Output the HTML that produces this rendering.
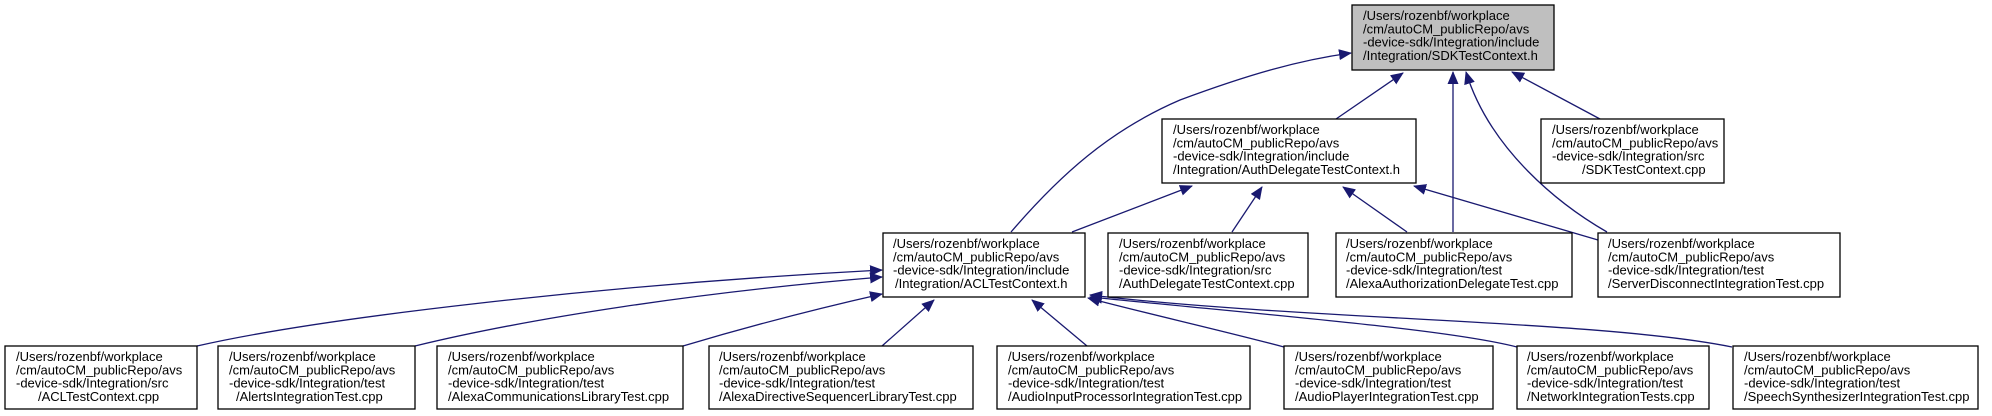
<!DOCTYPE html>
<html><head><meta charset="utf-8"><style>
html,body{margin:0;padding:0;background:#fff;}
svg{display:block}
text{font-family:"Liberation Sans",Arial,sans-serif;font-size:13px;fill:#000}
</style></head><body>
<svg width="1992" height="416" viewBox="0 0 1992 416" xmlns="http://www.w3.org/2000/svg">
<defs>
<marker id="a" markerWidth="13" markerHeight="11" refX="12" refY="5.5" orient="auto" markerUnits="userSpaceOnUse">
<path d="M0,0 L13,5.5 L0,11 Z" fill="#191970"/>
</marker>
</defs>
<g fill="none" stroke="#191970" stroke-width="1.3" marker-end="url(#a)">
<path d="M1011,232 C1060,175 1110,130 1180,100 C1250,74 1300,60 1351,53"/>
<path d="M1336,119 L1403,73"/>
<path d="M1453,232 L1453,72"/>
<path d="M1607,232 C1560,205 1490,150 1466,72"/>
<path d="M1600,119 L1512,72"/>
<path d="M1072,232 L1192,186"/>
<path d="M1232,232 L1262,187"/>
<path d="M1407,232 L1343,187"/>
<path d="M1598,240 L1414,186"/>
<path d="M197,346 C320,318 600,285 882,270"/>
<path d="M415,346 C530,318 700,292 882,277"/>
<path d="M683,346 C750,326 820,308 882,294"/>
<path d="M882,346 L934,300"/>
<path d="M1087,346 L1032,300"/>
<path d="M1284,347 C1220,330 1140,312 1088,298"/>
<path d="M1517,347 C1450,330 1300,318 1090,297"/>
<path d="M1732,347 C1600,320 1300,320 1090,295"/>
</g>
<g fill="#fff" stroke="#000" stroke-width="1.3">
<rect x="1352" y="5" width="202" height="65" fill="#bfbfbf"/>
<rect x="1162" y="119" width="254" height="64"/>
<rect x="1541" y="119" width="183" height="64"/>
<rect x="883" y="233" width="202" height="64"/>
<rect x="1108" y="233" width="200" height="64"/>
<rect x="1336" y="233" width="236" height="64"/>
<rect x="1598" y="233" width="242" height="64"/>
<rect x="5" y="346" width="192" height="63"/>
<rect x="218" y="346" width="197" height="63"/>
<rect x="437" y="346" width="246" height="63"/>
<rect x="709" y="346" width="264" height="63"/>
<rect x="997" y="346" width="253" height="63"/>
<rect x="1284" y="346" width="209" height="63"/>
<rect x="1517" y="346" width="192" height="63"/>
<rect x="1733" y="346" width="245" height="63"/>
</g>
<text x="1363" y="20">/Users/rozenbf/workplace<tspan x="1363" dy="13.3">/cm/autoCM_publicRepo/avs</tspan><tspan x="1363" dy="13.3">-device-sdk/Integration/include</tspan><tspan x="1363" dy="13.3">/Integration/SDKTestContext.h</tspan></text>
<text x="1173" y="134">/Users/rozenbf/workplace<tspan x="1173" dy="13.3">/cm/autoCM_publicRepo/avs</tspan><tspan x="1173" dy="13.3">-device-sdk/Integration/include</tspan><tspan x="1173" dy="13.3">/Integration/AuthDelegateTestContext.h</tspan></text>
<text x="1552" y="134">/Users/rozenbf/workplace<tspan x="1552" dy="13.3">/cm/autoCM_publicRepo/avs</tspan><tspan x="1552" dy="13.3">-device-sdk/Integration/src</tspan><tspan x="1582" dy="13.3">/SDKTestContext.cpp</tspan></text>
<text x="893" y="248">/Users/rozenbf/workplace<tspan x="893" dy="13.3">/cm/autoCM_publicRepo/avs</tspan><tspan x="893" dy="13.3">-device-sdk/Integration/include</tspan><tspan x="895" dy="13.3">/Integration/ACLTestContext.h</tspan></text>
<text x="1119" y="248">/Users/rozenbf/workplace<tspan x="1119" dy="13.3">/cm/autoCM_publicRepo/avs</tspan><tspan x="1119" dy="13.3">-device-sdk/Integration/src</tspan><tspan x="1119" dy="13.3">/AuthDelegateTestContext.cpp</tspan></text>
<text x="1346" y="248">/Users/rozenbf/workplace<tspan x="1346" dy="13.3">/cm/autoCM_publicRepo/avs</tspan><tspan x="1346" dy="13.3">-device-sdk/Integration/test</tspan><tspan x="1346" dy="13.3">/AlexaAuthorizationDelegateTest.cpp</tspan></text>
<text x="1608" y="248">/Users/rozenbf/workplace<tspan x="1608" dy="13.3">/cm/autoCM_publicRepo/avs</tspan><tspan x="1608" dy="13.3">-device-sdk/Integration/test</tspan><tspan x="1608" dy="13.3">/ServerDisconnectIntegrationTest.cpp</tspan></text>
<text x="16" y="361">/Users/rozenbf/workplace<tspan x="16" dy="13.3">/cm/autoCM_publicRepo/avs</tspan><tspan x="16" dy="13.3">-device-sdk/Integration/src</tspan><tspan x="38" dy="13.3">/ACLTestContext.cpp</tspan></text>
<text x="229" y="361">/Users/rozenbf/workplace<tspan x="229" dy="13.3">/cm/autoCM_publicRepo/avs</tspan><tspan x="229" dy="13.3">-device-sdk/Integration/test</tspan><tspan x="236" dy="13.3">/AlertsIntegrationTest.cpp</tspan></text>
<text x="448" y="361">/Users/rozenbf/workplace<tspan x="448" dy="13.3">/cm/autoCM_publicRepo/avs</tspan><tspan x="448" dy="13.3">-device-sdk/Integration/test</tspan><tspan x="448" dy="13.3">/AlexaCommunicationsLibraryTest.cpp</tspan></text>
<text x="719" y="361">/Users/rozenbf/workplace<tspan x="719" dy="13.3">/cm/autoCM_publicRepo/avs</tspan><tspan x="719" dy="13.3">-device-sdk/Integration/test</tspan><tspan x="719" dy="13.3">/AlexaDirectiveSequencerLibraryTest.cpp</tspan></text>
<text x="1008" y="361">/Users/rozenbf/workplace<tspan x="1008" dy="13.3">/cm/autoCM_publicRepo/avs</tspan><tspan x="1008" dy="13.3">-device-sdk/Integration/test</tspan><tspan x="1008" dy="13.3">/AudioInputProcessorIntegrationTest.cpp</tspan></text>
<text x="1295" y="361">/Users/rozenbf/workplace<tspan x="1295" dy="13.3">/cm/autoCM_publicRepo/avs</tspan><tspan x="1295" dy="13.3">-device-sdk/Integration/test</tspan><tspan x="1295" dy="13.3">/AudioPlayerIntegrationTest.cpp</tspan></text>
<text x="1527" y="361">/Users/rozenbf/workplace<tspan x="1527" dy="13.3">/cm/autoCM_publicRepo/avs</tspan><tspan x="1527" dy="13.3">-device-sdk/Integration/test</tspan><tspan x="1527" dy="13.3">/NetworkIntegrationTests.cpp</tspan></text>
<text x="1744" y="361">/Users/rozenbf/workplace<tspan x="1744" dy="13.3">/cm/autoCM_publicRepo/avs</tspan><tspan x="1744" dy="13.3">-device-sdk/Integration/test</tspan><tspan x="1744" dy="13.3">/SpeechSynthesizerIntegrationTest.cpp</tspan></text>
</svg>
</body></html>
